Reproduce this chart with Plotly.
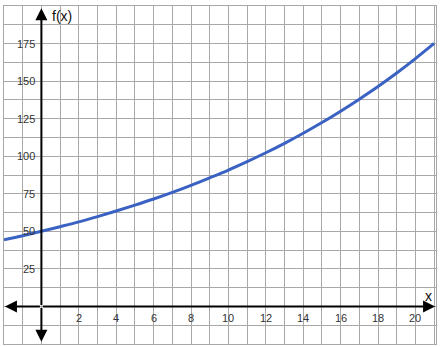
import plotly.graph_objects as go

# Data
x_vals = [-2, -1, 0, 1, 2, 3, 4, 5, 6, 7, 8, 9, 10, 11, 12, 13, 14, 15, 16, 17, 18, 19, 20, 21]
f_vals = [44.4, 47.1, 50.0, 53.1, 56.3, 59.8, 63.5, 67.4, 71.5, 75.9, 80.6, 85.6, 90.8,
          96.4, 102.3, 108.6, 115.3, 122.4, 130.0, 138.0, 146.4, 155.4, 165.0, 175.1]
x_tick_vals = [2, 4, 6, 8, 10, 12, 14, 16, 18, 20]
x_tick_text = ["2", "4", "6", "8", "10", "12", "14", "16", "18", "20"]
y_tick_vals = [25, 50, 75, 100, 125, 150, 175]
y_tick_text = ["25", "50", "75", "100", "125", "150", "175"]

X_MIN, X_MAX = -2, 21.1
Y_MIN, Y_MAX = -25, 200

fig = go.Figure()

fig.add_trace(go.Scatter(
    x=x_vals, y=f_vals, mode="lines",
    line=dict(color="#3a62c2", width=3, shape="spline", smoothing=1.0),
    hoverinfo="skip", showlegend=False,
))

font_tick = dict(family="Liberation Sans, Arial, sans-serif", size=11, color="#333333")
ann = []
for v, t in zip(x_tick_vals, x_tick_text):
    ann.append(dict(x=v, y=-7.5, xref="x", yref="y", text=t, showarrow=False,
                    font=font_tick, xanchor="center", yanchor="middle"))
for v, t in zip(y_tick_vals, y_tick_text):
    ann.append(dict(x=-0.22, y=v, xref="x", yref="y", text=t, showarrow=False,
                    font=font_tick, xanchor="right", yanchor="middle"))

# axis arrows
arrow_common = dict(xref="x", yref="y", axref="x", ayref="y", text="",
                    showarrow=True, arrowhead=2, arrowsize=1.2, arrowwidth=2,
                    arrowcolor="#000000")
ann.append(dict(x=21.05, y=0, ax=0, ay=0, **arrow_common))
ann.append(dict(x=-1.95, y=0, ax=0, ay=0, **arrow_common))
ann.append(dict(x=0, y=198.5, ax=0, ay=0, **arrow_common))
ann.append(dict(x=0, y=-23.5, ax=0, ay=0, **arrow_common))

font_lbl = dict(family="Liberation Sans, Arial, sans-serif", size=14, color="#111111")
ann.append(dict(x=1.12, y=193.5, xref="x", yref="y", text="f(x)", showarrow=False,
                font=font_lbl, xanchor="center", yanchor="middle"))
ann.append(dict(x=20.7, y=7, xref="x", yref="y", text="x", showarrow=False,
                font=font_lbl, xanchor="center", yanchor="middle"))

grid_color = "#a8a8a8"
fig.update_layout(
    width=440, height=347,
    margin=dict(l=4, r=4, t=6, b=3),
    paper_bgcolor="white", plot_bgcolor="white",
    annotations=ann,
    xaxis=dict(range=[X_MIN, X_MAX], dtick=1, tick0=0, showticklabels=False,
               showgrid=True, gridcolor=grid_color, gridwidth=1, zeroline=False,
               showline=True, linecolor=grid_color, linewidth=1, mirror=True,
               ticks="", fixedrange=True),
    yaxis=dict(range=[Y_MIN, Y_MAX], dtick=12.5, tick0=0, showticklabels=False,
               showgrid=True, gridcolor=grid_color, gridwidth=1, zeroline=False,
               showline=True, linecolor=grid_color, linewidth=1, mirror=True,
               ticks="", fixedrange=True),
    showlegend=False,
)

fig.write_html("out.html")
